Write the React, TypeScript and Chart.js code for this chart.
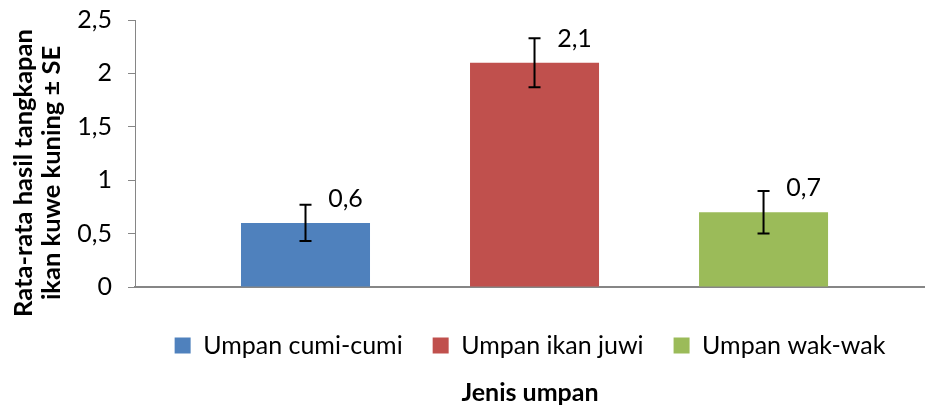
import React, { useEffect, useRef } from 'react';
import { Chart, registerables } from 'chart.js';

Chart.register(...registerables);

const categories = ['Umpan cumi-cumi', 'Umpan ikan juwi', 'Umpan wak-wak'];
const barPositions = [1, 2, 3];
const means = [0.6, 2.1, 0.7];
const standardErrors = [0.17, 0.23, 0.2];
const colors = ['#4F81BD', '#C0504D', '#9BBB59'];
const yTicks = [0, 0.5, 1, 1.5, 2, 2.5];
const yTitleLines = ['Rata-rata hasil tangkapan', 'ikan kuwe kuning ± SE'];
const xTitle = 'Jenis umpan';

const FONT = 'Lato, "Open Sans", sans-serif';
const fmt = (v: number) => String(v).replace('.', ',');

const errorBarPlugin = {
  id: 'errorBarsAndLabels',
  afterDatasetsDraw(chart: any) {
    const { ctx } = chart;
    const yScale = chart.scales.y;
    const meta = chart.getDatasetMeta(0);
    ctx.save();
    ctx.strokeStyle = '#000';
    ctx.lineWidth = 2;
    meta.data.forEach((bar: any, i: number) => {
      const x = bar.x;
      const top = yScale.getPixelForValue(means[i] + standardErrors[i]);
      const bot = yScale.getPixelForValue(means[i] - standardErrors[i]);
      ctx.beginPath();
      ctx.moveTo(x, top);
      ctx.lineTo(x, bot);
      ctx.moveTo(x - 6, top);
      ctx.lineTo(x + 6, top);
      ctx.moveTo(x - 6, bot);
      ctx.lineTo(x + 6, bot);
      ctx.stroke();
    });
    ctx.fillStyle = '#000';
    ctx.font = `25px ${FONT}`;
    ctx.textAlign = 'center';
    ctx.textBaseline = 'middle';
    meta.data.forEach((bar: any, i: number) => {
      ctx.fillText(fmt(means[i]), bar.x + 40, bar.y - 24);
    });
    ctx.restore();
  },
  afterDraw(chart: any) {
    const { ctx } = chart;
    ctx.save();
    ctx.fillStyle = '#000';
    ctx.font = `bold 25.5px ${FONT}`;
    ctx.textAlign = 'center';
    ctx.textBaseline = 'middle';
    const xs = [24, 52];
    yTitleLines.forEach((line, i) => {
      ctx.save();
      ctx.translate(xs[i], 173);
      ctx.rotate(-Math.PI / 2);
      ctx.fillText(line, 0, 0);
      ctx.restore();
    });
    ctx.restore();
  },
};

export default function App() {
  const ref = useRef<HTMLCanvasElement | null>(null);
  useEffect(() => {
    if (!ref.current) return;
    const chart = new Chart(ref.current, {
      type: 'bar',
      data: {
        datasets: [
          {
            label: 'Rata-rata',
            data: barPositions.map((x, i) => ({ x, y: means[i] })),
            backgroundColor: colors,
            borderWidth: 0,
            categoryPercentage: 1,
            barPercentage: 129 / 229,
          } as any,
        ],
      },
      options: {
        responsive: false,
        animation: false,
        layout: { padding: { top: 20, right: 0, left: 0, bottom: 0 } },
        scales: {
          x: {
            type: 'linear',
            min: 0.2555,
            max: 3.705,
            offset: false,
            afterBuildTicks: (s: any) => {
              s.ticks = [{ value: s.min }];
            },
            afterFit: (s: any) => {
              s.height = s.height + 9;
            },
            ticks: { display: false },
            grid: { display: true, drawOnChartArea: false, drawTicks: true, tickLength: 7, color: '#868686', lineWidth: 1 },
            border: { display: true, color: '#868686', width: 2 },
          },
          y: {
            min: 0,
            max: 2.5,
            afterBuildTicks: (s: any) => {
              s.ticks = yTicks.map((v) => ({ value: v }));
            },
            afterFit: (s: any) => {
              s.width = 135;
              s.paddingTop = 0;
            },
            ticks: {
              font: { family: FONT, size: 25 },
              color: '#000',
              padding: 16,
              callback: (v: any) => fmt(Number(v)),
            },
            grid: { display: true, drawOnChartArea: false, drawTicks: true, tickLength: 7, color: '#868686' },
            border: { display: true, color: '#868686', width: 1 },
          },
        },
        plugins: {
          legend: {
            display: true,
            position: 'bottom',
            fullSize: false,
            labels: {
              boxWidth: 16,
              boxHeight: 16,
              padding: 30,
              color: '#000',
              font: { family: FONT, size: 25 },
              generateLabels: () =>
                categories.map((c, i) => ({
                  text: c,
                  fillStyle: colors[i],
                  strokeStyle: colors[i],
                  lineWidth: 0,
                  hidden: false,
                  index: i,
                  datasetIndex: 0,
                })),
            },
            onClick: () => {},
          },
          title: {
            display: true,
            position: 'bottom',
            fullSize: false,
            text: xTitle,
            color: '#000',
            font: { family: FONT, size: 25, weight: 'bold' },
            padding: { top: 10, bottom: 4 },
          },
          tooltip: { enabled: false },
        },
      },
      plugins: [errorBarPlugin],
    } as any);
    return () => chart.destroy();
  }, []);
  return (
    <div style={{ position: 'absolute', left: 0, top: 0, width: 925, height: 412 }}>
      <canvas ref={ref} width={925} height={412} />
    </div>
  );
}
